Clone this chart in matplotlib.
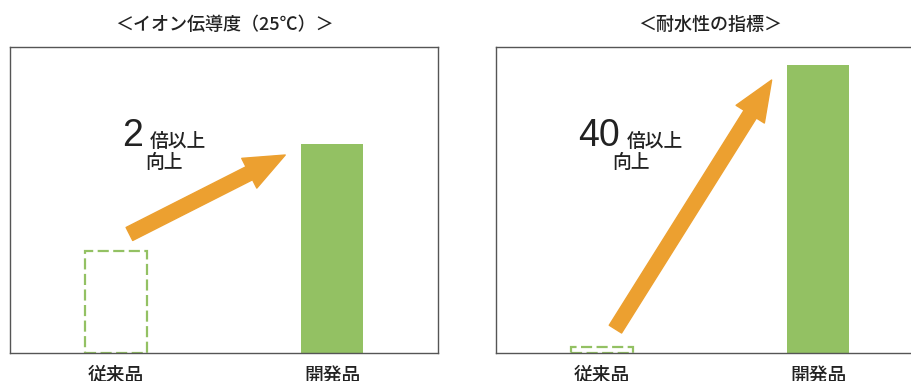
import matplotlib
matplotlib.use("Agg")
import matplotlib.pyplot as plt

plt.rcParams['font.family'] = ['Noto Sans CJK JP', 'DejaVu Sans']

# data
categories = ["従来品", "開発品"]
ion_values = [1.0, 2.05]      # イオン伝導度 (relative)
water_values = [1.0, 48.0]    # 耐水性の指標 (relative)
titles = ["＜イオン伝導度（25℃）＞", "＜耐水性の指標＞"]
big_labels = ["2", "40"]
ylims = [3.0, 51.0]

GREEN = "#93C163"
ORANGE = "#ECA030"
TEXT = "#222222"

fig = plt.figure(figsize=(9.12, 3.81), dpi=100)
W, H = 912.0, 381.0
ax1 = fig.add_axes([10 / W, 28 / H, 428 / W, 306 / H])
ax2 = fig.add_axes([496 / W, 28 / H, 428 / W, 306 / H])

# arrow tail/tip and text spots in axes fraction
arrow_pos = [((0.279, 0.389), (0.643, 0.647)),
             ((0.279, 0.078), (0.644, 0.892))]
num_x = [0.262, 0.192]
kanji_x = [0.327, 0.306]
kanji2_x = [0.316, 0.272]

for i, (ax, vals) in enumerate(zip([ax1, ax2], [ion_values, water_values])):
    x = list(range(len(categories)))
    # old product: dashed outline only
    ax.bar(x[0], vals[0], width=0.286, facecolor="none", edgecolor=GREEN,
           linewidth=1.6, linestyle=(0, (5, 2)), zorder=2)
    # new product: filled
    ax.bar(x[1], vals[1], width=0.286, color=GREEN, zorder=2)

    ax.set_xlim(-0.49, 1.49)
    ax.set_ylim(0, ylims[i])
    ax.set_yticks([])
    ax.set_xticks(x)
    ax.set_xticklabels(categories, fontsize=13.5, color=TEXT, fontweight='medium')
    ax.tick_params(axis='x', length=0, pad=9)
    for s in ax.spines.values():
        s.set_color("#555555")
        s.set_linewidth(1.0)
    ax.set_title(titles[i], fontsize=13, color=TEXT, pad=12, fontweight='medium')

    tail, tip = arrow_pos[i]
    ax.annotate("", xy=tip, xytext=tail, xycoords='axes fraction',
                textcoords='axes fraction',
                arrowprops=dict(arrowstyle="simple,head_length=2.9,head_width=2.4,tail_width=1.05",
                                mutation_scale=10, color=ORANGE, shrinkA=0, shrinkB=0),
                zorder=3)

    ax.text(num_x[i], 0.676, big_labels[i], transform=ax.transAxes,
            fontsize=27, color=TEXT, ha='left', va='baseline',
            family=['Liberation Sans', 'DejaVu Sans'])
    ax.text(kanji_x[i], 0.673, "倍以上", transform=ax.transAxes,
            fontsize=13.5, color=TEXT, ha='left', va='baseline', fontweight='medium')
    ax.text(kanji2_x[i], 0.605, "向上", transform=ax.transAxes,
            fontsize=13.5, color=TEXT, ha='left', va='baseline', fontweight='medium')

fig.savefig("out.png", dpi=100)
